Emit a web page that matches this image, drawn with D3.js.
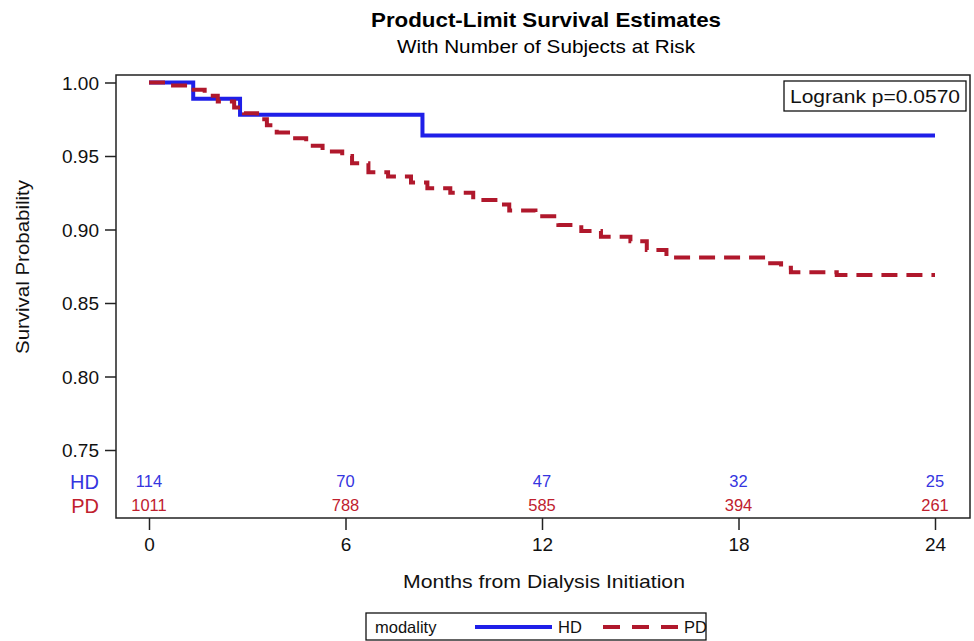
<!DOCTYPE html>
<html><head><meta charset="utf-8">
<script src="https://cdn.jsdelivr.net/npm/d3@7"></script>
<style>body{margin:0;background:#fff}svg{display:block}text{font-family:"Liberation Sans",Arial,sans-serif}</style>
</head><body>
<script>
const title = "Product-Limit Survival Estimates";
const subtitle = "With Number of Subjects at Risk";
const xTicks = [0, 6, 12, 18, 24];
const yTicks = [0.75, 0.80, 0.85, 0.90, 0.95, 1.00];
const groups = ["HD", "PD"];
const hdTime = [0, 1.35, 2.78, 8.35, 24];
const hdSurv = [1.000, 0.989, 0.978, 0.964, 0.964];
const pdTime = [0, 0.6, 1.2, 1.7, 2.1, 2.6, 2.9, 3.3, 3.6, 3.9, 4.4, 4.8, 5.3, 5.9, 6.2, 6.7, 7.3, 8.0, 8.5, 9.2, 9.9, 10.7, 11.0, 11.8, 12.5, 13.2, 13.8, 14.7, 15.2, 15.8, 18.9, 19.3, 19.6, 21.0, 24];
const pdSurv = [1.000, 0.998, 0.995, 0.991, 0.987, 0.983, 0.979, 0.975, 0.971, 0.966, 0.962, 0.957, 0.953, 0.950, 0.945, 0.939, 0.936, 0.932, 0.928, 0.925, 0.920, 0.917, 0.913, 0.909, 0.903, 0.899, 0.895, 0.892, 0.886, 0.881, 0.877, 0.874, 0.871, 0.869, 0.869];
const riskTimes = [0, 6, 12, 18, 24];
const hdRisk = [114, 70, 47, 32, 25];
const pdRisk = [1011, 788, 585, 394, 261];
const pValueText = "Logrank p=0.0570";
const xLabel = "Months from Dialysis Initiation";
const yLabel = "Survival Probability";
const legendTitle = "modality";

const W = 974, H = 641;
const blue = "#1f1fe8", red = "#b0182c";
const blueTxt = "#3535e0", redTxt = "#c0202e";
const frame = {l: 116, r: 970, t: 75, b: 518};
const x = d3.scaleLinear().domain([0, 24]).range([149, 935]);
const y = d3.scaleLinear().domain([0.75, 1.0]).range([450, 82.5]);

const svg = d3.select("body").append("svg").attr("width", W).attr("height", H);

svg.append("text").attr("x", 546).attr("y", 27).attr("text-anchor", "middle")
  .attr("font-weight", "bold").attr("font-size", 21)
  .attr("textLength", 350).attr("lengthAdjust", "spacingAndGlyphs").text(title);
svg.append("text").attr("x", 546).attr("y", 53).attr("text-anchor", "middle")
  .attr("font-size", 18.5)
  .attr("textLength", 298).attr("lengthAdjust", "spacingAndGlyphs").text(subtitle);

// y axis
const yAxis = d3.axisLeft(y).tickValues(yTicks).tickFormat(d3.format(".2f")).tickSize(11).tickPadding(6);
const gy = svg.append("g").attr("transform", `translate(${frame.l},0)`).call(yAxis);
gy.select(".domain").remove();
gy.selectAll("text").attr("font-size", 19).attr("fill", "#111").attr("dy", "0.36em");
gy.selectAll("line").attr("stroke", "#222").attr("stroke-width", 1.5);

// x axis
const xAxis = d3.axisBottom(x).tickValues(xTicks).tickSize(12).tickPadding(8);
const gx = svg.append("g").attr("transform", `translate(0,${frame.b})`).call(xAxis);
gx.select(".domain").remove();
gx.selectAll("text").attr("font-size", 19).attr("fill", "#111");
gx.selectAll("line").attr("stroke", "#222").attr("stroke-width", 1.5);

svg.append("text").attr("x", 544).attr("y", 588).attr("text-anchor", "middle")
  .attr("font-size", 19).attr("fill", "#111")
  .attr("textLength", 282).attr("lengthAdjust", "spacingAndGlyphs").text(xLabel);
svg.append("text").attr("transform", "translate(29,267) rotate(-90)").attr("text-anchor", "middle")
  .attr("font-size", 18).attr("fill", "#111")
  .attr("textLength", 174).attr("lengthAdjust", "spacingAndGlyphs").text(yLabel);

// curves
const step = d3.line().x(d => x(d[0])).y(d => y(d[1])).curve(d3.curveStepAfter);
const hdData = hdTime.map((t, i) => [t, hdSurv[i]]);
const pdData = pdTime.map((t, i) => [t, pdSurv[i]]);
svg.append("path").attr("d", step(hdData)).attr("fill", "none").attr("stroke", blue).attr("stroke-width", 4);
svg.append("path").attr("d", step(pdData)).attr("fill", "none").attr("stroke", red).attr("stroke-width", 4)
  .attr("stroke-dasharray", "16,9");

// at-risk table
const rows = [{g: groups[0], vals: hdRisk, c: blueTxt, yy: 487}, {g: groups[1], vals: pdRisk, c: redTxt, yy: 511}];
rows.forEach(r => {
  svg.append("text").attr("x", 99).attr("y", r.yy + 2).attr("text-anchor", "end")
    .attr("font-size", 20).attr("fill", r.c).text(r.g);
  svg.selectAll(null).data(riskTimes).enter().append("text")
    .attr("x", d => x(d)).attr("y", r.yy).attr("text-anchor", "middle")
    .attr("font-size", 16.5).attr("fill", r.c).text((d, i) => r.vals[i]);
});

// frame
svg.append("rect").attr("x", frame.l).attr("y", frame.t).attr("width", frame.r - frame.l).attr("height", frame.b - frame.t)
  .attr("fill", "none").attr("stroke", "#222").attr("stroke-width", 1.5);

// p-value box
svg.append("rect").attr("x", 784).attr("y", 81).attr("width", 182).attr("height", 30)
  .attr("fill", "#fff").attr("stroke", "#111").attr("stroke-width", 1.3);
svg.append("text").attr("x", 875).attr("y", 103).attr("text-anchor", "middle")
  .attr("font-size", 19).attr("fill", "#111")
  .attr("textLength", 170).attr("lengthAdjust", "spacingAndGlyphs").text(pValueText);

// legend
svg.append("rect").attr("x", 366).attr("y", 613).attr("width", 340).attr("height", 27)
  .attr("fill", "#fff").attr("stroke", "#111").attr("stroke-width", 1.3);
svg.append("text").attr("x", 375).attr("y", 633).attr("font-size", 16.5).attr("fill", "#111").text(legendTitle);
svg.append("line").attr("x1", 475).attr("x2", 552).attr("y1", 627).attr("y2", 627).attr("stroke", blue).attr("stroke-width", 4);
svg.append("text").attr("x", 558).attr("y", 633).attr("font-size", 16.5).attr("fill", "#111").text(groups[0]);
svg.append("line").attr("x1", 603).attr("x2", 678).attr("y1", 627).attr("y2", 627).attr("stroke", red).attr("stroke-width", 4)
  .attr("stroke-dasharray", "17,12");
svg.append("text").attr("x", 684).attr("y", 633).attr("font-size", 16.5).attr("fill", "#111").text(groups[1]);
</script>
</body></html>
